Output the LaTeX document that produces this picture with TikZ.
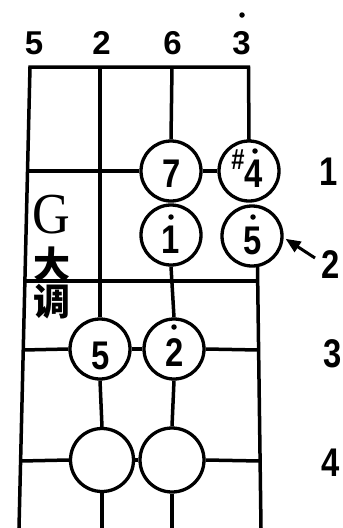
\documentclass[tikz,border=0pt]{standalone}
\usepackage{fontspec}
\newfontfamily\numfont[FakeStretch=0.82]{Liberation Sans}
\newfontfamily\topfont{Liberation Sans}
\newfontfamily\serfont[FakeStretch=0.9]{Liberation Serif}
\newfontfamily\cjk{Noto Sans CJK SC}
\usetikzlibrary{arrows.meta}
\begin{document}
\begin{tikzpicture}[x=1pt,y=-1pt, line width=3.5pt,
  note/.style={circle, draw, minimum size=60pt, inner sep=0pt, line width=3.3pt},
  lbl/.style={font=\numfont\bfseries\fontsize{40}{42}\selectfont, inner sep=0pt},
  toplbl/.style={font=\topfont\bfseries\fontsize{33}{35}\selectfont, inner sep=0pt},
  sharp/.style={font=\numfont\bfseries\fontsize{29}{31}\selectfont, inner sep=0pt},
  dotmark/.style={circle, fill, inner sep=0pt, minimum size=5.5pt},
  cjkchar/.style={font=\cjk\bfseries\fontsize{37}{40}\selectfont, inner sep=0pt},
  frame/.style={line cap=rect}
  ]
\useasboundingbox (0,0) rectangle (343,528);
% note circles
\node[note] (c7) at (171,171) {};
\node[note] (c4) at (249,171) {};
\node[note] (c1) at (171,235) {};
\node[note] (c5h) at (252,236) {};
\node[note] (c5) at (100,349) {};
\node[note] (c2) at (174,349) {};
\node[note, minimum size=63pt] (e1) at (102,460) {};
\node[note, minimum size=64pt] (e2) at (172,460) {};
% digits in circles
\node[lbl] (t7) at (172,174) {7};
\node[lbl] (t4) at (254,174) {4};
\node[sharp] (ts) at (238,160) {\#};
\node[dotmark] (d4) at (255,151) {};
\node[lbl] (t1) at (171,240) {1};
\node[dotmark] (d1) at (171,217) {};
\node[lbl] (t5h) at (253,241) {5};
\node[dotmark] (d5h) at (253,217) {};
\node[lbl] (t5) at (101,356) {5};
\node[lbl] (t2) at (175,353) {2};
\node[dotmark] (d2) at (174,327) {};
% top labels
\node[toplbl] (s1) at (34,43) {5};
\node[toplbl] (s2) at (101.5,43) {2};
\node[toplbl] (s3) at (172.5,43) {6};
\node[toplbl] (s4) at (241.5,43) {3};
\node[dotmark] (ds4) at (242,15) {};
% row labels
\node[lbl] (r1) at (329,172) {1};
\node[lbl] (r2) at (331,265) {2};
\node[lbl] (r3) at (333,354) {3};
\node[lbl] (r4) at (331,463) {4};
% key text
\node[inner sep=0pt, font=\serfont\fontsize{58}{60}\selectfont] (kG) at (51,215) {G};
\node[cjkchar] (k1) at (52,264) {大};
\node[cjkchar] (k2) at (52,302) {调};
% coordinates
\coordinate (L0) at (30,67);
\coordinate (Lb) at (19,528);
\coordinate (R0) at (248.5,67);
\coordinate (C2top) at (100,67);
\coordinate (C2bot) at (102,528);
\coordinate (C3top) at (172,67);
\coordinate (C3bot) at (172,528);
\coordinate (Rb) at (261,528);
\coordinate (F1L) at (27.5,171);
\coordinate (F2L) at (25,281);
\coordinate (F2R) at (257.5,281);
\coordinate (F3L) at (23,350);
\coordinate (F3R) at (258.5,350);
\coordinate (F4L) at (20.5,461);
\coordinate (F4R) at (260,461);
\coordinate (atail) at (315,258);
% strings and frets
\draw[frame] (Lb) -- (L0) -- (R0) -- (c4.north);
\draw (C2top) -- (c5.north);
\draw (c5.south) -- (e1.north);
\draw (e1.south) -- (C2bot);
\draw (C3top) -- (c7.north);
\draw (c1.south) -- (c2.north);
\draw (c2.south) -- (e2.north);
\draw (e2.south) -- (C3bot);
\draw (c5h.-80) -- (Rb);
\draw (F1L) -- (c7.west);
\draw (c7.east) -- (c4.west);
\draw (F2L) -- (F2R);
\draw (F3L) -- (c5.west);
\draw (c5.east) -- (c2.west);
\draw (c2.east) -- (F3R);
\draw (F4L) -- (e1.west);
\draw (e1.east) -- (e2.west);
\draw (e2.east) -- (F4R);
% arrow
\draw[-{Triangle[length=15pt,width=12pt]}, line width=3pt] (atail) -- ([xshift=2pt]c5h.-5);
\end{tikzpicture}
\end{document}
